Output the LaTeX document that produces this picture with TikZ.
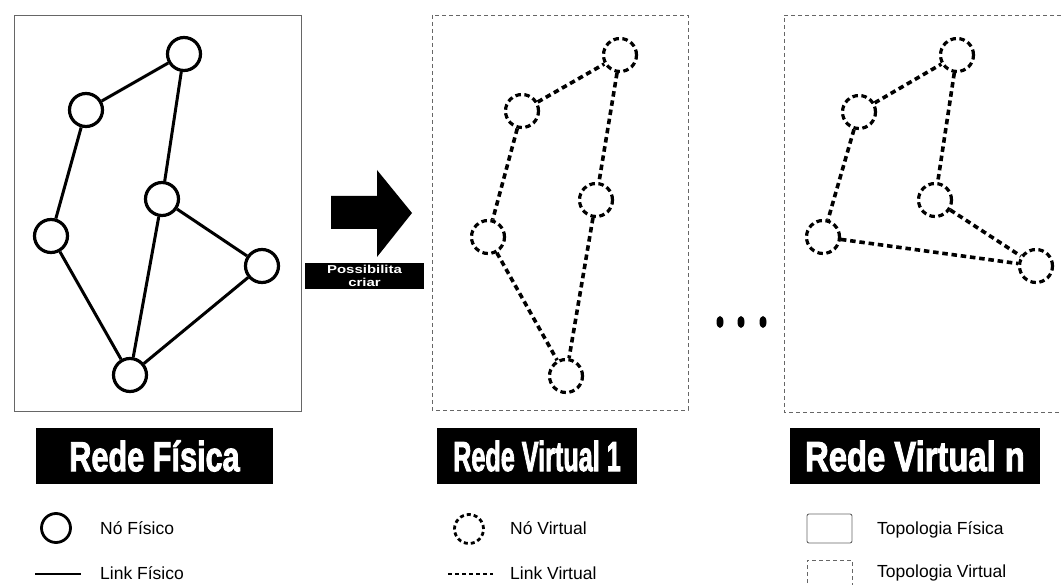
\documentclass[tikz,border=0pt]{standalone}
\usepackage{fontspec}
\setmainfont{Liberation Sans}
\newfontfamily\titlefont[FakeBold=2.5]{Liberation Sans Bold}
\usetikzlibrary{calc}

\tikzset{
  pnode/.style={circle, draw=black, line width=3.2pt, fill=white, minimum size=33pt, inner sep=0pt},
  vnode/.style={pnode, dash pattern=on 5.5pt off 3.5pt},
  plink/.style={line width=3pt, black},
  vlink/.style={line width=3.6pt, black, dash pattern=on 5.5pt off 3.8pt},
  pframe/.style={draw=black!60, line width=0.9pt},
  vframe/.style={draw=black!60, line width=0.9pt, dash pattern=on 4pt off 3pt},
  titlebox/.style={fill=black, text=white, inner sep=0pt, minimum height=56pt,
    font=\titlefont\fontsize{42}{42}\selectfont},
  lblbox/.style={fill=black, text=white, inner sep=0pt, minimum width=119pt, minimum height=26pt,
    align=center, font=\fontsize{11.5}{12.5}\selectfont\bfseries},
  legtext/.style={anchor=west, inner sep=0pt, font=\fontsize{17.5}{19}\selectfont},
}

\begin{document}
\begin{tikzpicture}[x=1pt, y=-1pt]
\useasboundingbox (0,0) rectangle (1061,585);

% ---------- physical network ----------
\draw[pframe] (14,15) rectangle (301,411);
\node[pnode] (pa) at (184,54) {};
\node[pnode] (pb) at (86,110) {};
\node[pnode] (pc) at (162,199) {};
\node[pnode] (pd) at (51,236) {};
\node[pnode] (pe) at (262,266) {};
\node[pnode] (pf) at (130,375) {};
\draw[plink] (pb) -- (pa);
\draw[plink] (pa) -- (pc);
\draw[plink] (pb) -- (pd);
\draw[plink] (pd) -- (pf);
\draw[plink] (pc) -- (pf);
\draw[plink] (pc) -- (pe);
\draw[plink] (pe) -- (pf);

% ---------- block arrow and its caption ----------
\fill[black] (331,196) -- (377,196) -- (377,170) -- (412,213) -- (377,257) -- (377,229) -- (331,229) -- cycle;
\node[lblbox] (lbl) at (364.5,276) {\scalebox{1.3}[1]{Possibilita}\\\scalebox{1.3}[1]{criar}};

% ---------- virtual network 1 ----------
\draw[vframe] (432,15) rectangle (688,410);
\node[vnode] (va) at (620,55) {};
\node[vnode] (vb) at (522,111) {};
\node[vnode] (vc) at (596,200) {};
\node[vnode] (vd) at (488,237) {};
\node[vnode] (vf) at (566,376) {};
\draw[vlink] (vb) -- (va);
\draw[vlink] (va) -- (vc);
\draw[vlink] (vb) -- (vd);
\draw[vlink] (vd) -- (vf);
\draw[vlink] (vc) -- (vf);

% ---------- ellipsis ----------
\fill[black] (720,322) ellipse [x radius=3.5, y radius=6];
\fill[black] (741,322) ellipse [x radius=3.5, y radius=6];
\fill[black] (763,322) ellipse [x radius=3.5, y radius=6];

% ---------- virtual network n ----------
\draw[vframe] (1061,15) -- (784,15) -- (784,412) -- (1061,412);
\node[vnode] (na) at (957,55) {};
\node[vnode] (nb) at (859,112) {};
\node[vnode] (nc) at (935,200) {};
\node[vnode] (nd) at (823,237) {};
\node[vnode] (ne) at (1036,266) {};
\draw[vlink] (nb) -- (na);
\draw[vlink] (na) -- (nc);
\draw[vlink] (nb) -- (nd);
\draw[vlink] (nd) -- (ne);
\draw[vlink] (nc) -- (ne);

% ---------- titles ----------
\node[titlebox, minimum width=237pt] (t1) at (154.5,456) {\scalebox{0.73}[1]{Rede Física}};
\node[titlebox, minimum width=200pt] (t2) at (537,456) {\scalebox{0.6}[1]{Rede Virtual 1}};
\node[titlebox, minimum width=250pt] (t3) at (915,456) {\scalebox{0.78}[1]{Rede Virtual n}};

% ---------- legend ----------
\node[pnode, line width=2.8pt, minimum size=29pt] (lp) at (56,528) {};
\node[legtext] (lpt) at (100,528) {Nó Físico};
\coordinate (lla) at (35,574);
\coordinate (llb) at (81,574);
\draw[plink, line width=2.8pt] (lla) -- (llb);
\node[legtext] (llt) at (100,573) {Link Físico};

\node[vnode, line width=2.8pt, minimum size=29pt, dash pattern=on 4pt off 3pt] (lv) at (469,529) {};
\node[legtext] (lvt) at (510,528) {Nó Virtual};
\coordinate (lva) at (448,574);
\coordinate (lvb) at (493,574);
\draw[vlink, line width=2.8pt, dash pattern=on 4pt off 3pt] (lva) -- (lvb);
\node[legtext] (lvlt) at (510,573) {Link Virtual};

\draw[pframe, rounded corners=2pt] (807,514) rectangle (852,543);
\node[legtext] (ltp) at (877,530) {Topologia Física};
\draw[vframe] (807,590) -- (807,560) -- (852,560) -- (852,590);
\node[legtext] (ltv) at (877,573) {Topologia Virtual};
\end{tikzpicture}
\end{document}
